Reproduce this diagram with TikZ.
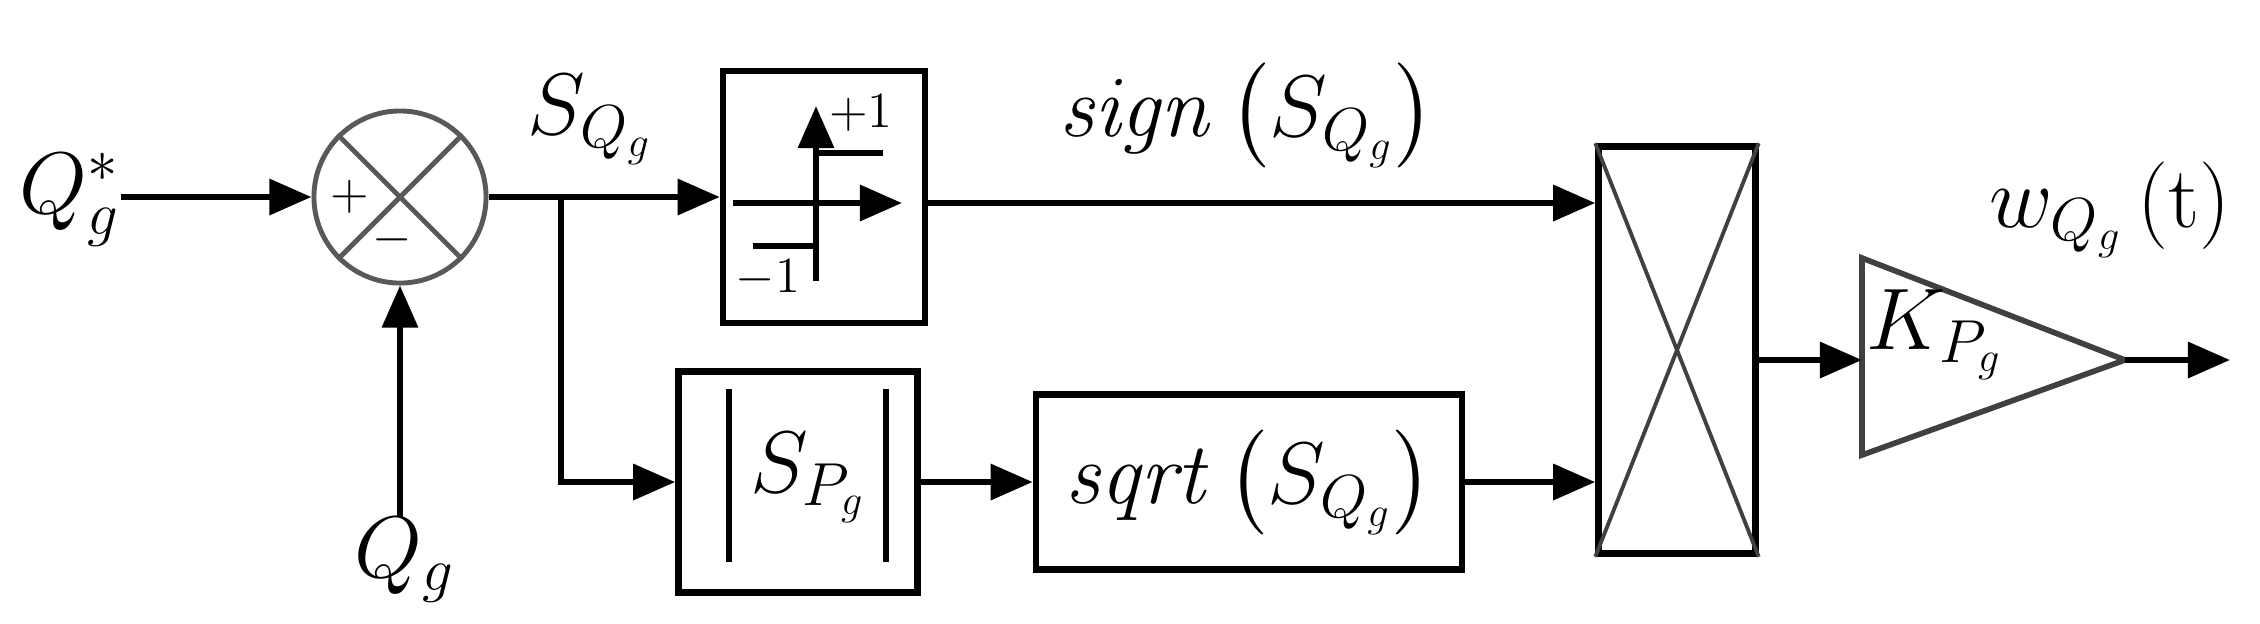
\documentclass[tikz,border=0pt]{standalone}
\usepackage{amsmath}
\usetikzlibrary{arrows.meta}
\tikzset{blk/.style={draw,line width=1.8pt,inner sep=0pt},
sum/.style={circle,draw=black!65,line width=1.4pt,minimum size=1.72cm,inner sep=0pt},
lbl/.style={inner sep=0pt,font=\fontsize{25}{30}\selectfont},
arrow/.style = {-{Triangle[length=12pt,width=10pt]},line width=1.8pt}}
\begin{document}
\begin{tikzpicture}[x=0.01cm,y=-0.01cm]
\useasboundingbox (0,0) rectangle (2260,623);
\node[lbl] (qs) at (70,200) {$Q_g^{*}$};
\node[sum] (s) at (400,197) {};
\draw[black!65,line width=1.4pt] (s.45) -- (s.225) (s.135) -- (s.315);
\node[inner sep=0pt,font=\Large] at (350,197) {$+$};
\node[inner sep=0pt,font=\Large] at (392,240) {$-$};
\node[lbl] (q) at (405,560) {$Q_g$};
\node[lbl] (sq) at (590,120) {$S_{Q_g}$};

\node[blk,minimum width=2.02cm,minimum height=2.52cm] (sg) at (824,197) {};
\draw[arrow] (816,281) -- (816,106);
\draw[arrow] (733,203) -- (902,203);
\draw[line width=1.6pt] (816,153) -- (883,153) (753,246) -- (816,246);
\node[inner sep=0pt,font=\fontsize{15}{18}\selectfont] at (861,113) {$+1$};
\node[inner sep=0pt,font=\fontsize{15}{18}\selectfont] at (768,278) {$-1$};

\node[blk,minimum width=2.39cm,minimum height=2.21cm] (ab) at (798,482) {};
\node[lbl] at (808,478) {$S_{P_g}$};
\draw[line width=1.6pt] (729,389) -- (729,562) (886,389) -- (886,562);
\node[blk,minimum width=4.26cm,minimum height=1.75cm,font=\fontsize{25}{30}\selectfont] (sr) at (1249,482) {$\mathit{sqrt}\left(S_{Q_g}\right)$};
\node[lbl] (sl) at (1247,115) {$\mathit{sign}\left(S_{Q_g}\right)$};

\node[blk,minimum width=1.57cm,minimum height=4.07cm] (m) at (1677,350) {};
\draw[black!75,line width=1.1pt] (m.north west) -- (m.south east) (m.north east) -- (m.south west);

\coordinate (ga) at (1862,258);
\coordinate (gb) at (1862,455);
\coordinate (gt) at (2125,360);
\draw[black!75,line width=1.6pt] (ga) -- (gt) -- (gb) -- cycle;
\coordinate (gi) at (1862,360);
\coordinate (go) at (2230,360);
\node[lbl] (k) at (1935,335) {$K_{P_g}$};
\node[lbl] (w) at (2110,210) {$w_{Q_g}\,(\mathrm{t})$};

\coordinate (sp) at (561,197);
\draw[arrow] (qs.east |- s.west) -- (s.west);
\draw[arrow] (s.south |- q.north) -- (s.south);
\draw[arrow] (s.east) -- (sg.west);
\draw[arrow] (sp) |- (ab.west);
\draw[arrow] (ab.east) -- (sr.west);
\draw[arrow] (sg.east |- 0,203) -- (m.west |- 0,203);
\draw[arrow] (sr.east) -- (m.west |- sr.east);
\draw[arrow] (m.east |- gi) -- (gi);
\draw[arrow] (gt) -- (go);
\end{tikzpicture}
\end{document}
